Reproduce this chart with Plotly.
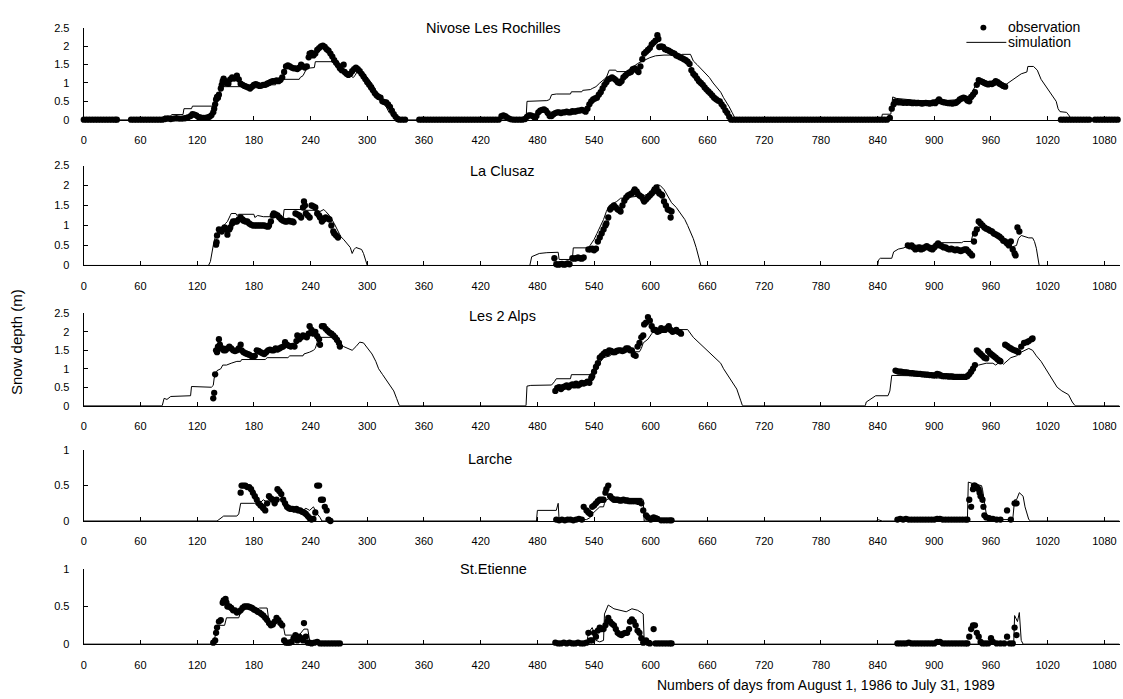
import plotly.graph_objects as go

W, H = 1123, 699

x_ticks = [0, 60, 120, 180, 240, 300, 360, 420, 480, 540, 600, 660, 720, 780, 840, 900, 960, 1020, 1080]

station_names = ["Nivose Les Rochilles", "La Clusaz", "Les 2 Alps", "Larche", "St.Etienne"]
y_max = [2.5, 2.5, 2.5, 1, 1]
y_ticks_big = [0, 0.5, 1, 1.5, 2, 2.5]
y_ticks_small = [0, 0.5, 1]
legend_labels = ["observation", "simulation"]

# ---------------- Nivose Les Rochilles ----------------
nivose_obs = [
    (0, 0), (3, 0), (6, 0), (9, 0), (12, 0), (15, 0), (18, 0), (21, 0), (24, 0), (27, 0), (30, 0), (33, 0), (35, 0),
    (50, 0), (53, 0), (56, 0), (59, 0), (62, 0), (65, 0), (68, 0), (71, 0), (74, 0), (77, 0), (80, 0), (83, 0),
    (86, 0.02), (89, 0.03), (92, 0.02), (95, 0.03), (98, 0.04), (101, 0.03), (104, 0.03), (107, 0.04), (110, 0.06),
    (113, 0.1), (115, 0.15), (117, 0.14), (119, 0.12), (121, 0.08), (123, 0.06), (125, 0.05), (127, 0.05), (129, 0.05),
    (131, 0.06), (133, 0.08), (135, 0.12), (137, 0.2), (138, 0.3), (139, 0.42), (140, 0.55), (141, 0.62), (142, 0.6),
    (143, 0.68), (145, 0.85), (146, 0.95), (147, 1.05), (148, 1.12), (150, 1.05), (151, 1.0), (153, 0.98), (155, 1.1),
    (157, 1.15), (159, 1.12), (161, 1.15), (162, 1.2), (164, 1.1), (166, 0.98), (168, 0.95), (170, 0.92), (172, 0.9),
    (174, 0.88), (176, 0.85), (178, 0.9), (180, 0.95), (182, 0.97), (184, 0.95), (186, 0.92), (188, 0.93), (190, 0.95),
    (192, 0.95), (194, 0.98), (196, 1.0), (198, 1.03), (200, 1.05), (202, 1.05), (204, 1.07), (206, 1.05), (208, 1.08),
    (210, 1.15), (212, 1.3), (214, 1.45), (216, 1.48), (218, 1.45), (220, 1.42), (222, 1.4), (224, 1.4), (226, 1.38),
    (228, 1.42), (230, 1.5), (232, 1.45), (234, 1.42), (236, 1.45), (238, 1.7), (239, 1.8), (241, 1.82), (243, 1.75),
    (245, 1.8), (247, 1.9), (249, 1.95), (251, 2.0), (253, 2.02), (255, 1.98), (257, 1.92), (259, 1.88), (261, 1.8),
    (263, 1.72), (265, 1.62), (267, 1.55), (269, 1.48), (271, 1.4), (273, 1.35), (275, 1.5), (276, 1.3), (278, 1.25),
    (280, 1.22), (282, 1.25), (284, 1.32), (286, 1.38), (288, 1.42), (290, 1.38), (292, 1.32), (294, 1.25), (296, 1.18),
    (298, 1.1), (300, 1.02), (302, 0.95), (304, 0.88), (306, 0.8), (308, 0.72), (310, 0.66), (312, 0.62), (314, 0.6),
    (316, 0.5), (318, 0.48), (320, 0.47), (322, 0.42), (324, 0.35), (326, 0.25), (328, 0.15), (330, 0.08), (332, 0.02),
    (334, 0), (337, 0), (340, 0),
    (355, 0), (358, 0), (361, 0), (364, 0), (367, 0), (370, 0), (373, 0), (376, 0), (379, 0), (382, 0), (385, 0),
    (388, 0), (391, 0), (394, 0), (397, 0), (400, 0), (403, 0), (406, 0), (409, 0), (412, 0), (415, 0), (418, 0),
    (421, 0), (424, 0), (427, 0), (430, 0), (433, 0), (436, 0), (439, 0),
    (442, 0.1), (444, 0.12), (446, 0.1), (448, 0.06), (450, 0.03), (452, 0.01), (455, 0), (458, 0), (461, 0), (464, 0),
    (467, 0.02), (469, 0.08), (471, 0.12), (473, 0.12), (475, 0.1), (477, 0.06), (479, 0.1), (481, 0.2), (483, 0.25),
    (485, 0.27), (487, 0.28), (489, 0.25), (491, 0.18), (493, 0.1), (495, 0.1), (497, 0.15), (499, 0.18), (501, 0.2),
    (503, 0.2), (505, 0.18), (507, 0.2), (509, 0.2), (511, 0.22), (513, 0.2), (515, 0.2), (517, 0.23), (519, 0.22),
    (521, 0.23), (523, 0.25), (525, 0.25), (527, 0.27), (529, 0.25), (531, 0.22), (533, 0.3), (535, 0.42), (537, 0.5),
    (539, 0.55), (541, 0.58), (543, 0.6), (545, 0.68), (547, 0.75), (549, 0.85), (551, 0.95), (553, 1.02), (555, 1.1),
    (557, 1.12), (559, 1.15), (561, 1.12), (563, 1.08), (565, 1.02), (567, 1.0), (569, 1.05), (571, 1.15), (573, 1.2),
    (575, 1.25), (577, 1.28), (579, 1.3), (581, 1.38), (583, 1.4), (585, 1.35), (587, 1.3), (589, 1.45), (591, 1.65),
    (593, 1.8), (595, 1.85), (597, 1.9), (599, 1.95), (601, 2.05), (603, 2.1), (605, 2.15), (607, 2.3), (608, 2.2),
    (609, 1.98), (611, 2.0), (613, 1.98), (615, 1.92), (617, 1.9), (619, 1.88), (621, 1.85), (623, 1.82), (625, 1.8),
    (627, 1.75), (629, 1.73), (631, 1.7), (633, 1.68), (635, 1.65), (637, 1.62), (639, 1.58), (641, 1.52), (643, 1.35),
    (645, 1.25), (647, 1.2), (649, 1.12), (651, 1.05), (653, 1.0), (655, 0.95), (657, 0.88), (659, 0.82), (661, 0.77),
    (663, 0.72), (665, 0.66), (667, 0.6), (669, 0.56), (671, 0.52), (673, 0.5), (675, 0.42), (677, 0.35), (679, 0.25),
    (681, 0.18), (683, 0.08), (685, 0),
    (688, 0), (691, 0), (694, 0), (697, 0), (700, 0), (703, 0), (706, 0), (709, 0), (712, 0), (715, 0), (718, 0),
    (721, 0), (724, 0), (727, 0), (730, 0), (733, 0), (736, 0), (739, 0), (742, 0), (745, 0), (748, 0), (751, 0),
    (754, 0), (757, 0), (760, 0), (763, 0), (766, 0), (769, 0), (772, 0), (775, 0), (778, 0), (781, 0), (784, 0),
    (787, 0), (790, 0), (793, 0), (796, 0), (799, 0), (802, 0), (805, 0), (808, 0), (811, 0), (814, 0), (817, 0),
    (820, 0), (823, 0), (826, 0), (829, 0), (832, 0), (835, 0), (838, 0), (841, 0), (844, 0), (847, 0), (850, 0),
    (853, 0.05), (855, 0.3), (857, 0.42), (859, 0.5), (861, 0.48), (863, 0.47), (865, 0.48), (867, 0.46), (869, 0.47),
    (871, 0.46), (873, 0.47), (875, 0.46), (877, 0.45), (879, 0.46), (881, 0.45), (883, 0.46), (885, 0.45), (887, 0.44),
    (889, 0.45), (891, 0.46), (893, 0.45), (895, 0.44), (897, 0.45), (899, 0.47), (901, 0.45), (903, 0.5), (905, 0.55),
    (907, 0.5), (909, 0.48), (911, 0.47), (913, 0.46), (915, 0.45), (917, 0.45), (919, 0.44), (921, 0.45), (923, 0.46),
    (925, 0.5), (927, 0.55), (929, 0.58), (931, 0.6), (933, 0.58), (935, 0.52), (937, 0.5), (939, 0.62), (941, 0.68),
    (943, 0.75), (945, 0.95), (947, 1.08), (949, 1.05), (951, 1.03), (953, 1.0), (955, 0.98), (957, 0.96), (959, 0.98),
    (961, 0.97), (963, 1.0), (965, 1.05), (967, 1.02), (969, 0.98), (971, 0.95), (973, 0.92), (975, 0.9),
    (1034, 0), (1037, 0), (1040, 0), (1043, 0), (1046, 0), (1049, 0), (1052, 0), (1055, 0), (1058, 0), (1061, 0),
    (1064, 0), (1070, 0), (1073, 0), (1076, 0), (1079, 0), (1082, 0), (1085, 0), (1088, 0), (1091, 0), (1094, 0),
]
nivose_sim = [
    (0, 0), (84, 0), (85, 0.1), (92, 0.1), (93, 0.14), (105, 0.14), (106, 0.3), (114, 0.3), (115, 0.37), (137, 0.37),
    (138, 0.45), (140, 0.55), (141, 0.65), (143, 0.7), (145, 0.85), (147, 0.9), (170, 0.9), (171, 0.87), (185, 0.87),
    (186, 0.9), (195, 0.9), (196, 0.95), (203, 0.95), (204, 1.02), (207, 1.03), (208, 1.1), (228, 1.1), (229, 1.15),
    (232, 1.2), (234, 1.3), (236, 1.4), (244, 1.42), (245, 1.58), (264, 1.58), (266, 1.5), (270, 1.5), (274, 1.42),
    (277, 1.3), (279, 1.22), (282, 1.2), (285, 1.15), (287, 1.2), (289, 1.3), (293, 1.35), (296, 1.28), (300, 1.15),
    (303, 1.05), (306, 0.95), (309, 0.8), (312, 0.7), (314, 0.55), (316, 0.5), (318, 0.4), (320, 0.35), (323, 0.2),
    (326, 0.12), (328, 0.1), (331, 0.02), (333, 0), (468, 0), (469, 0.5), (488, 0.5), (490, 0.52), (493, 0.55),
    (495, 0.68), (500, 0.7), (515, 0.7), (516, 0.76), (527, 0.76), (528, 0.8), (536, 0.82), (538, 0.85), (542, 0.9),
    (546, 1.0), (548, 1.05), (553, 1.15), (556, 1.35), (563, 1.35), (564, 1.31), (576, 1.31), (578, 1.4), (582, 1.45),
    (586, 1.53), (592, 1.6), (595, 1.65), (599, 1.69), (605, 1.74), (614, 1.76), (632, 1.76), (633, 1.78), (642, 1.78),
    (645, 1.6), (649, 1.5), (654, 1.36), (658, 1.25), (662, 1.15), (666, 1.0), (670, 0.88), (674, 0.75), (677, 0.6),
    (680, 0.48), (683, 0.35), (686, 0.2), (688, 0.08), (690, 0), (844, 0), (845, 0.15), (854, 0.15), (856, 0.62),
    (860, 0.58), (870, 0.55), (880, 0.53), (900, 0.5), (915, 0.52), (927, 0.55), (932, 0.6), (936, 0.62), (939, 0.7),
    (943, 0.9), (947, 1.0), (954, 1.05), (958, 0.95), (962, 1.0), (968, 1.0), (973, 0.9), (977, 0.98), (981, 1.05),
    (987, 1.15), (992, 1.25), (998, 1.3), (999, 1.45), (1005, 1.45), (1009, 1.35), (1013, 1.1), (1017, 0.95),
    (1020, 0.85), (1023, 0.75), (1026, 0.62), (1029, 0.5), (1031, 0.3), (1033, 0.22), (1040, 0.2), (1043, 0.1),
    (1045, 0), (1096, 0),
]

# ---------------- La Clusaz ----------------
clusaz_obs = [
    (140, 0.52), (140.5, 0.58), (141, 0.75), (143, 0.9), (144, 0.88), (146, 0.85), (147, 0.9), (149, 0.95), (151, 0.9),
    (152, 0.77), (154, 0.9), (155, 0.95), (157, 1.05), (158, 1.1), (160, 1.1), (162, 1.1), (164, 1.15), (166, 1.2),
    (168, 1.15), (169, 1.12), (171, 1.1), (173, 1.1), (175, 1.05), (177, 1.02), (179, 1.0), (181, 1.0), (183, 1.0),
    (185, 1.0), (187, 1.0), (189, 1.0), (191, 1.0), (193, 0.98), (195, 0.97), (196, 1.0), (198, 1.1), (200, 1.25),
    (201, 1.3), (203, 1.28), (205, 1.25), (207, 1.2), (209, 1.15), (211, 1.12), (213, 1.1), (215, 1.1), (217, 1.12),
    (219, 1.1), (221, 1.1), (222, 1.08), (224, 1.3), (226, 1.28), (228, 1.25), (230, 1.2), (232, 1.45), (233, 1.6),
    (234, 1.5), (235, 1.3), (237, 1.25), (239, 1.2), (241, 1.5), (243, 1.48), (245, 1.45), (247, 1.3), (249, 1.25),
    (250, 1.2), (252, 1.1), (254, 1.15), (256, 1.2), (258, 1.18), (260, 1.15), (262, 1.0), (264, 0.85), (265, 0.8),
    (267, 0.75), (269, 0.7),
    (498, 0.18), (500, 0.03), (502, 0.02), (504, 0.03), (506, 0.04), (508, 0.02), (510, 0.03), (512, 0.05), (514, 0.03),
    (517, 0.18), (519, 0.17), (521, 0.18), (523, 0.2), (525, 0.18), (527, 0.17), (529, 0.2), (534, 0.4), (536, 0.4),
    (538, 0.42), (540, 0.38), (542, 0.42), (544, 0.6), (546, 0.7), (548, 0.8), (550, 0.9), (552, 1.0), (553, 1.05),
    (555, 1.2), (557, 1.4), (559, 1.45), (561, 1.5), (563, 1.45), (565, 1.4), (567, 1.38), (568, 1.35), (570, 1.5),
    (572, 1.62), (574, 1.7), (576, 1.75), (578, 1.78), (580, 1.8), (582, 1.85), (583, 1.9), (585, 1.85), (586, 1.8),
    (588, 1.75), (590, 1.72), (592, 1.65), (593, 1.6), (595, 1.65), (597, 1.7), (599, 1.75), (601, 1.8), (603, 1.85),
    (604, 1.9), (606, 1.95), (608, 1.85), (609, 1.8), (611, 1.78), (612, 1.75), (614, 1.6), (616, 1.5), (618, 1.4),
    (620, 1.38), (621, 1.2), (622, 1.35),
    (872, 0.5), (874, 0.48), (876, 0.5), (878, 0.45), (880, 0.4), (882, 0.42), (884, 0.45), (886, 0.4), (888, 0.42),
    (890, 0.45), (892, 0.48), (894, 0.45), (896, 0.42), (898, 0.4), (900, 0.45), (902, 0.5), (904, 0.55), (906, 0.5),
    (908, 0.48), (910, 0.45), (912, 0.45), (914, 0.42), (916, 0.4), (918, 0.42), (920, 0.4), (922, 0.38), (924, 0.4),
    (926, 0.38), (928, 0.36), (930, 0.38), (932, 0.4), (934, 0.4), (936, 0.35), (938, 0.3), (940, 0.25), (942, 0.6),
    (943, 0.8), (945, 0.9), (947, 1.1), (949, 1.05), (951, 1.0), (953, 0.95), (955, 0.92), (957, 0.9), (959, 0.87),
    (961, 0.85), (963, 0.8), (965, 0.78), (967, 0.75), (969, 0.72), (971, 0.68), (973, 0.62), (975, 0.6), (977, 0.55),
    (979, 0.5), (981, 0.6), (983, 0.4), (985, 0.3), (986, 0.25), (988, 0.95), (990, 0.85),
]
clusaz_sim = [
    (0, 0), (132, 0), (134, 0.1), (136, 0.4), (137, 0.5), (139, 0.7), (141, 0.8), (144, 0.9), (147, 0.96), (150, 1.05),
    (152, 1.1), (155, 1.25), (156, 1.3), (161, 1.3), (162, 1.25), (164, 1.28), (180, 1.28), (181, 1.2), (184, 1.25),
    (190, 1.22), (203, 1.22), (205, 1.3), (208, 1.25), (211, 1.2), (212, 1.4), (232, 1.4), (235, 1.38), (247, 1.38),
    (250, 1.35), (254, 1.4), (256, 1.35), (260, 1.25), (265, 1.05), (269, 0.85), (272, 0.72), (275, 0.65), (279, 0.55),
    (282, 0.45), (284, 0.3), (286, 0.4), (288, 0.45), (291, 0.42), (294, 0.4), (296, 0.3), (298, 0.15), (300, 0),
    (472, 0), (474, 0.22), (482, 0.3), (490, 0.32), (502, 0.33), (503, 0.15), (517, 0.15), (518, 0.44), (534, 0.44),
    (537, 0.55), (540, 0.65), (543, 0.8), (546, 0.95), (550, 1.15), (553, 1.35), (556, 1.5), (560, 1.55), (564, 1.6),
    (568, 1.68), (575, 1.7), (585, 1.72), (593, 1.75), (598, 1.8), (603, 1.9), (607, 2.02), (610, 2.0), (614, 1.9),
    (618, 1.75), (622, 1.57), (627, 1.45), (632, 1.29), (636, 1.15), (639, 1.0), (642, 0.85), (645, 0.67), (648, 0.45),
    (651, 0.18), (653, 0), (840, 0), (841, 0.14), (843, 0.18), (855, 0.18), (857, 0.34), (862, 0.41), (868, 0.44),
    (872, 0.51), (901, 0.5), (903, 0.57), (929, 0.57), (931, 0.6), (939, 0.6), (941, 0.8), (944, 0.84), (948, 0.96),
    (952, 0.95), (956, 0.88), (962, 0.84), (966, 0.8), (970, 0.75), (974, 0.68), (977, 0.59), (980, 0.52), (983, 0.47),
    (987, 0.5), (989, 0.67), (992, 0.75), (996, 0.72), (1000, 0.69), (1004, 0.69), (1006, 0.6), (1008, 0.43),
    (1011, 0), (1096, 0),
]

# ---------------- Les 2 Alps ----------------
alps_obs = [
    (137, 0.2), (138, 0.35), (139, 0.85), (140, 1.5), (141, 1.45), (142, 1.6), (143, 1.8), (144, 1.65), (145, 1.55),
    (147, 1.55), (148, 1.5), (150, 1.5), (152, 1.55), (154, 1.6), (156, 1.55), (158, 1.5), (160, 1.48), (162, 1.5),
    (164, 1.55), (166, 1.65), (167, 1.5), (169, 1.45), (171, 1.42), (173, 1.4), (175, 1.38), (177, 1.35), (179, 1.32),
    (181, 1.35), (183, 1.5), (185, 1.48), (187, 1.45), (189, 1.42), (191, 1.4), (193, 1.45), (195, 1.5), (197, 1.52),
    (199, 1.5), (201, 1.5), (203, 1.55), (205, 1.52), (207, 1.55), (209, 1.58), (211, 1.6), (213, 1.72), (215, 1.65),
    (217, 1.62), (219, 1.6), (221, 1.62), (223, 1.6), (225, 1.75), (226, 1.9), (228, 1.8), (230, 1.85), (232, 1.9),
    (234, 1.88), (236, 1.85), (238, 1.95), (239, 2.15), (241, 2.05), (243, 1.95), (245, 2.0), (247, 1.88), (249, 1.8),
    (250, 1.65), (252, 2.15), (254, 2.15), (256, 2.08), (258, 2.03), (260, 1.98), (262, 1.95), (264, 1.9), (266, 1.85),
    (268, 1.78), (270, 1.7), (271, 1.6),
    (499, 0.4), (501, 0.48), (503, 0.5), (505, 0.45), (507, 0.5), (509, 0.52), (511, 0.55), (513, 0.5), (515, 0.55),
    (517, 0.58), (519, 0.55), (521, 0.6), (523, 0.55), (525, 0.58), (527, 0.62), (529, 0.6), (531, 0.62), (533, 0.65),
    (535, 0.62), (537, 0.75), (538, 0.8), (540, 0.92), (542, 1.05), (544, 1.15), (546, 1.3), (548, 1.35), (550, 1.4),
    (552, 1.45), (554, 1.42), (556, 1.5), (558, 1.48), (560, 1.45), (562, 1.45), (564, 1.48), (566, 1.5), (568, 1.5),
    (570, 1.48), (572, 1.5), (574, 1.55), (576, 1.55), (578, 1.5), (580, 1.5), (582, 1.38), (584, 1.35), (586, 1.6),
    (588, 1.7), (590, 1.85), (592, 1.9), (593, 2.2), (595, 2.25), (597, 2.4), (599, 2.3), (601, 2.15), (603, 2.05),
    (605, 2.05), (607, 2.0), (609, 2.02), (611, 2.1), (613, 2.05), (615, 2.05), (617, 2.1), (619, 2.15), (621, 2.05),
    (623, 2.0), (625, 2.02), (627, 2.05), (629, 2.0), (631, 1.98), (632, 1.95),
    (859, 0.95), (861, 0.93), (863, 0.92), (865, 0.92), (867, 0.91), (869, 0.9), (871, 0.9), (873, 0.89), (875, 0.88),
    (877, 0.88), (879, 0.87), (881, 0.87), (883, 0.86), (885, 0.86), (887, 0.85), (889, 0.85), (891, 0.84), (893, 0.84),
    (895, 0.83), (897, 0.83), (899, 0.82), (901, 0.82), (903, 0.86), (905, 0.85), (907, 0.82), (909, 0.8), (911, 0.8),
    (913, 0.8), (915, 0.79), (917, 0.79), (919, 0.79), (921, 0.78), (923, 0.78), (925, 0.78), (927, 0.78), (929, 0.78),
    (931, 0.78), (933, 0.78), (935, 0.8), (937, 0.85), (939, 0.92), (941, 1.0), (943, 1.1), (945, 1.5), (947, 1.45),
    (949, 1.4), (951, 1.35), (953, 1.3), (955, 1.28), (957, 1.48), (959, 1.42), (961, 1.38), (963, 1.34), (965, 1.3),
    (967, 1.25), (969, 1.22), (970, 1.2), (975, 1.65), (977, 1.62), (979, 1.58), (981, 1.55), (983, 1.52), (985, 1.5),
    (987, 1.48), (989, 1.45), (992, 1.6), (995, 1.7), (998, 1.72), (1000, 1.75), (1003, 1.8), (1004, 1.82),
]
alps_sim = [
    (0, 0), (83, 0), (85, 0.2), (88, 0.17), (92, 0.25), (99, 0.25), (100, 0.27), (113, 0.27), (114, 0.52), (128, 0.52),
    (129, 0.5), (135, 0.5), (137, 0.55), (138, 0.75), (141, 0.95), (145, 1.0), (147, 1.1), (151, 1.1), (156, 1.15),
    (162, 1.2), (166, 1.2), (167, 1.25), (192, 1.25), (194, 1.3), (216, 1.3), (218, 1.35), (232, 1.35), (233, 1.4),
    (239, 1.45), (243, 1.5), (245, 1.55), (248, 1.8), (252, 1.85), (265, 1.85), (267, 1.75), (271, 1.7), (275, 1.6),
    (280, 1.55), (284, 1.5), (288, 1.6), (292, 1.72), (296, 1.7), (301, 1.55), (305, 1.4), (309, 1.2), (312, 1.0),
    (316, 0.85), (320, 0.7), (324, 0.55), (328, 0.4), (331, 0.2), (334, 0), (468, 0), (469, 0.53), (473, 0.55),
    (495, 0.56), (498, 0.65), (500, 0.73), (515, 0.73), (516, 0.84), (538, 0.84), (540, 0.9), (542, 1.0), (544, 1.1),
    (550, 1.3), (557, 1.35), (560, 1.46), (588, 1.46), (590, 1.55), (592, 1.7), (597, 1.8), (601, 1.95), (605, 2.06),
    (639, 2.06), (645, 1.85), (651, 1.7), (656, 1.6), (662, 1.45), (668, 1.3), (674, 1.15), (677, 1.0), (681, 0.85),
    (687, 0.6), (691, 0.45), (695, 0.15), (697, 0), (827, 0), (828, 0.1), (831, 0.15), (838, 0.27), (851, 0.27),
    (853, 0.4), (855, 0.82), (870, 0.82), (885, 0.8), (901, 0.8), (902, 0.75), (935, 0.75), (937, 0.85), (943, 1.1),
    (947, 1.1), (955, 1.15), (962, 1.15), (965, 1.1), (970, 1.2), (973, 1.12), (981, 1.3), (987, 1.35), (992, 1.45),
    (997, 1.5), (1000, 1.55), (1004, 1.5), (1008, 1.35), (1013, 1.2), (1019, 0.95), (1025, 0.7), (1030, 0.5),
    (1035, 0.4), (1038, 0.35), (1042, 0.3), (1046, 0.1), (1049, 0), (1096, 0),
]

# ---------------- Larche ----------------
larche_obs = [
    (166, 0.4), (167, 0.5), (169, 0.5), (171, 0.5), (173, 0.48), (175, 0.48), (177, 0.45), (179, 0.4), (181, 0.35),
    (183, 0.3), (185, 0.25), (187, 0.22), (189, 0.2), (190, 0.18), (192, 0.15), (194, 0.25), (196, 0.35), (198, 0.32),
    (200, 0.3), (202, 0.25), (204, 0.3), (205, 0.45), (207, 0.42), (209, 0.38), (211, 0.3), (213, 0.25), (215, 0.2),
    (217, 0.18), (219, 0.17), (221, 0.17), (223, 0.16), (225, 0.17), (227, 0.15), (229, 0.15), (231, 0.13), (233, 0.12),
    (235, 0.1), (237, 0.07), (239, 0.04), (241, 0.02), (243, 0.03), (245, 0.12), (247, 0.5), (249, 0.5), (251, 0.3),
    (253, 0.3), (255, 0.2), (257, 0.15), (259, 0.02), (261, 0),
    (500, 0.02), (503, 0.01), (506, 0.02), (509, 0.01), (512, 0.02), (515, 0.02), (518, 0.01), (521, 0.02), (524, 0.03),
    (527, 0.02), (529, 0.2), (532, 0.15), (534, 0.12), (536, 0.1), (538, 0.2), (540, 0.22), (542, 0.25), (544, 0.28),
    (546, 0.3), (548, 0.3), (550, 0.3), (552, 0.4), (553, 0.45), (555, 0.5), (557, 0.35), (559, 0.32), (561, 0.3),
    (563, 0.3), (565, 0.3), (567, 0.29), (569, 0.29), (571, 0.3), (573, 0.29), (575, 0.29), (577, 0.28), (579, 0.28),
    (581, 0.28), (583, 0.28), (585, 0.28), (587, 0.27), (588, 0.28), (590, 0.25), (592, 0.15), (595, 0.08), (597, 0.05),
    (600, 0.02), (603, 0.05), (605, 0.04), (607, 0.03), (611, 0.01), (614, 0.01), (617, 0.01), (620, 0.01), (622, 0.01),
    (861, 0.02), (864, 0.03), (867, 0.02), (870, 0.03), (873, 0.02), (876, 0.02), (879, 0.02), (882, 0.02), (885, 0.02),
    (888, 0.02), (891, 0.02), (894, 0.02), (897, 0.02), (900, 0.02), (903, 0.03), (906, 0.03), (909, 0.02), (912, 0.02),
    (915, 0.02), (918, 0.02), (921, 0.02), (924, 0.02), (927, 0.02), (930, 0.02), (933, 0.02), (935, 0.02), (937, 0.3),
    (939, 0.2), (941, 0.45), (942, 0.5), (943, 0.5), (945, 0.48), (947, 0.45), (948, 0.4), (949, 0.35), (951, 0.3),
    (952, 0.2), (953, 0.08), (955, 0.05), (958, 0.04), (962, 0.03), (966, 0.02), (970, 0.02), (977, 0.15), (981, 0.02),
    (985, 0.25), (987, 0.25),
]
larche_sim = [
    (0, 0), (141, 0), (143, 0.02), (148, 0.07), (162, 0.07), (164, 0.1), (166, 0.25), (181, 0.25), (183, 0.23),
    (186, 0.25), (190, 0.3), (196, 0.25), (200, 0.3), (205, 0.28), (209, 0.32), (212, 0.2), (215, 0.15), (232, 0.15),
    (235, 0.18), (239, 0.15), (243, 0.2), (247, 0.1), (250, 0.05), (252, 0), (479, 0), (480, 0.15), (500, 0.15),
    (502, 0.25), (503, 0.02), (532, 0.02), (536, 0.05), (538, 0.1), (542, 0.15), (546, 0.2), (550, 0.2), (551, 0.25),
    (553, 0.3), (557, 0.32), (590, 0.32), (592, 0.3), (593, 0), (839, 0), (840, 0.02), (845, 0), (935, 0),
    (936, 0.55), (943, 0.52), (950, 0.5), (951, 0.45), (953, 0.3), (955, 0.1), (958, 0.05), (962, 0.02), (983, 0.02),
    (985, 0.3), (987, 0.3), (990, 0.4), (994, 0.35), (996, 0.2), (1000, 0.02), (1002, 0), (1096, 0),
]

# ---------------- St.Etienne ----------------
etienne_obs = [
    (137, 0.02), (139, 0.05), (140, 0.15), (141, 0.22), (143, 0.3), (145, 0.32), (147, 0.55), (148, 0.58), (150, 0.6),
    (151, 0.55), (152, 0.5), (154, 0.5), (156, 0.48), (158, 0.45), (160, 0.45), (162, 0.42), (164, 0.43), (166, 0.45),
    (168, 0.48), (170, 0.5), (172, 0.5), (174, 0.5), (176, 0.49), (178, 0.48), (180, 0.46), (182, 0.45), (184, 0.43),
    (186, 0.42), (188, 0.4), (190, 0.38), (192, 0.35), (194, 0.32), (196, 0.28), (198, 0.25), (200, 0.26), (202, 0.3),
    (204, 0.35), (206, 0.32), (208, 0.28), (210, 0.25), (212, 0.05), (214, 0.02), (216, 0.02), (218, 0.02), (220, 0.03),
    (222, 0.08), (224, 0.12), (226, 0.05), (228, 0.1), (230, 0.08), (232, 0.05), (233, 0.28), (235, 0.1), (237, 0.02),
    (239, 0.02), (241, 0.01), (244, 0.02), (247, 0.03), (250, 0.01), (253, 0.01), (256, 0.01), (259, 0.01), (262, 0.01),
    (265, 0.01), (268, 0.01), (271, 0.01),
    (499, 0.02), (502, 0.01), (505, 0.01), (508, 0.02), (511, 0.01), (514, 0.02), (517, 0.01), (520, 0.01), (523, 0.02),
    (526, 0.01), (529, 0.01), (532, 0.02), (534, 0.15), (536, 0.05), (538, 0.05), (540, 0.15), (542, 0.1), (544, 0.18),
    (546, 0.22), (548, 0.2), (550, 0.2), (552, 0.25), (554, 0.3), (555, 0.35), (557, 0.3), (559, 0.27), (561, 0.25),
    (563, 0.2), (565, 0.15), (567, 0.13), (569, 0.12), (571, 0.14), (573, 0.15), (575, 0.15), (577, 0.2), (578, 0.3),
    (580, 0.33), (582, 0.3), (584, 0.25), (586, 0.18), (588, 0.15), (590, 0.08), (592, 0.02), (594, 0.03), (595, 0.05),
    (597, 0.02), (599, 0.01), (603, 0.2), (605, 0.01), (608, 0.01), (611, 0.01), (614, 0.01), (617, 0.01), (620, 0.01),
    (622, 0.01),
    (861, 0.01), (864, 0.01), (867, 0.01), (870, 0.01), (873, 0.02), (876, 0.01), (879, 0.01), (882, 0.01), (885, 0.01),
    (888, 0.01), (891, 0.01), (894, 0.01), (897, 0.01), (900, 0.01), (903, 0.03), (906, 0.03), (909, 0.01), (912, 0.01),
    (915, 0.01), (918, 0.01), (921, 0.01), (924, 0.01), (927, 0.01), (930, 0.01), (933, 0.01), (935, 0.01), (937, 0.1),
    (939, 0.2), (941, 0.25), (943, 0.25), (945, 0.15), (947, 0.1), (949, 0.03), (951, 0.01), (954, 0.01), (957, 0.01),
    (960, 0.08), (962, 0.03), (966, 0.01), (970, 0.01), (974, 0.01), (977, 0.1), (980, 0.01), (983, 0.01), (985, 0.22),
    (987, 0.12),
]
etienne_sim = [
    (0, 0), (134, 0), (137, 0.03), (140, 0.15), (143, 0.25), (149, 0.25), (151, 0.35), (164, 0.35), (166, 0.42),
    (168, 0.5), (179, 0.5), (184, 0.47), (186, 0.48), (194, 0.48), (196, 0.3), (209, 0.3), (211, 0.25), (213, 0.12),
    (228, 0.12), (233, 0.2), (237, 0.2), (239, 0.05), (241, 0), (532, 0), (534, 0.15), (538, 0.22), (540, 0.15),
    (542, 0.05), (546, 0.03), (550, 0.05), (551, 0.4), (555, 0.52), (561, 0.47), (569, 0.45), (574, 0.43), (580, 0.47),
    (586, 0.45), (590, 0.42), (592, 0.4), (593, 0.05), (595, 0.02), (599, 0), (977, 0), (978, 0.03), (979, 0),
    (984, 0), (985, 0.38), (988, 0.3), (990, 0.42), (992, 0.05), (994, 0), (1096, 0),
]

obs_series = [nivose_obs, clusaz_obs, alps_obs, larche_obs, etienne_obs]
sim_series = [nivose_sim, clusaz_sim, alps_sim, larche_sim, etienne_sim]

# ---------------- layout geometry (pixels) ----------------
x_left_px, x_right_px = 81, 1119.5
panel_px = [(22.3, 115.7), (162.3, 264.0), (312.7, 406.7), (452.0, 524.0), (572.7, 649.3)]
title_pos = [(492, 22), (500, 168), (501, 315), (488, 461), (492, 573)]

FONT = "Liberation Sans, Arial, sans-serif"

fig = go.Figure()
for i in range(5):
    xa = "x" if i == 0 else f"x{i + 1}"
    ya = "y" if i == 0 else f"y{i + 1}"
    sd = [p[0] for p in sim_series[i]]
    sv = [p[1] for p in sim_series[i]]
    od = [p[0] for p in obs_series[i]]
    ov = [p[1] for p in obs_series[i]]
    fig.add_trace(go.Scatter(
        x=sd, y=sv, mode="lines", name="simulation",
        line=dict(color="black", width=1), xaxis=xa, yaxis=ya,
        showlegend=False, cliponaxis=False, hoverinfo="skip"))
    fig.add_trace(go.Scatter(
        x=od, y=ov, mode="markers", name="observation",
        marker=dict(color="black", size=6.3, line=dict(width=0)), xaxis=xa, yaxis=ya,
        showlegend=False, cliponaxis=False, hoverinfo="skip"))

layout = dict(
    width=W, height=H,
    margin=dict(l=0, r=0, t=0, b=0),
    paper_bgcolor="white", plot_bgcolor="white",
    font=dict(family=FONT, size=11, color="black"),
    showlegend=False,
)
for i in range(5):
    top, bot = panel_px[i]
    xk = "xaxis" if i == 0 else f"xaxis{i + 1}"
    yk = "yaxis" if i == 0 else f"yaxis{i + 1}"
    ya = "y" if i == 0 else f"y{i + 1}"
    xa = "x" if i == 0 else f"x{i + 1}"
    layout[xk] = dict(
        domain=[x_left_px / W, x_right_px / W], anchor=ya, range=[0, 1096],
        tickmode="array", tickvals=x_ticks, ticks="inside", ticklen=4, tickwidth=1,
        tickcolor="black", showline=True, linecolor="black", linewidth=1.3,
        showgrid=False, zeroline=False, tickfont=dict(size=11, family=FONT),
        ticklabelstandoff=10, fixedrange=True)
    layout[yk] = dict(
        domain=[1 - bot / H, 1 - top / H], anchor=xa, range=[0, y_max[i]],
        tickmode="array", tickvals=(y_ticks_big if y_max[i] > 1 else y_ticks_small),
        ticks="inside", ticklen=4, tickwidth=1, tickcolor="black",
        showline=True, linecolor="black", linewidth=1.3, showgrid=False, zeroline=False,
        tickfont=dict(size=11, family=FONT), ticklabelstandoff=11, fixedrange=True)
fig.update_layout(**layout)

annotations = []
for i in range(5):
    tx, ty = title_pos[i]
    annotations.append(dict(x=tx / W, y=1 - ty / H, xref="paper", yref="paper",
                            text=station_names[i], showarrow=False,
                            xanchor="center", yanchor="middle",
                            font=dict(size=14.5, family=FONT)))
annotations.append(dict(x=13 / W, y=1 - 342 / H, xref="paper", yref="paper",
                        text="Snow depth (m)", textangle=-90, showarrow=False,
                        xanchor="center", yanchor="middle", font=dict(size=15, family=FONT)))
annotations.append(dict(x=825 / W, y=1 - 691 / H, xref="paper", yref="paper",
                        text="Numbers of days from August 1, 1986 to July 31, 1989",
                        showarrow=False, xanchor="center", yanchor="middle",
                        font=dict(size=14, family=FONT)))
# legend (key) texts
annotations.append(dict(x=1007 / W, y=1 - 21 / H, xref="paper", yref="paper",
                        text=legend_labels[0], showarrow=False, xanchor="left", yanchor="middle",
                        font=dict(size=14, family=FONT), borderpad=0))
annotations.append(dict(x=1007 / W, y=1 - 37 / H, xref="paper", yref="paper",
                        text=legend_labels[1], showarrow=False, xanchor="left", yanchor="middle",
                        font=dict(size=14, family=FONT), borderpad=0))
fig.update_layout(annotations=annotations)

# legend (key) glyphs
fig.add_shape(type="circle", xref="paper", yref="paper",
              x0=(983 - 3) / W, x1=(983 + 3) / W, y0=1 - (22 + 3) / H, y1=1 - (22 - 3) / H,
              fillcolor="black", line=dict(color="black", width=0))
fig.add_shape(type="line", xref="paper", yref="paper",
              x0=966 / W, x1=1006 / W, y0=1 - 37 / H, y1=1 - 37 / H,
              line=dict(color="black", width=1))

fig.write_html("out.html", config={"displayModeBar": False},
               post_script="document.body.style.margin='0px';")
